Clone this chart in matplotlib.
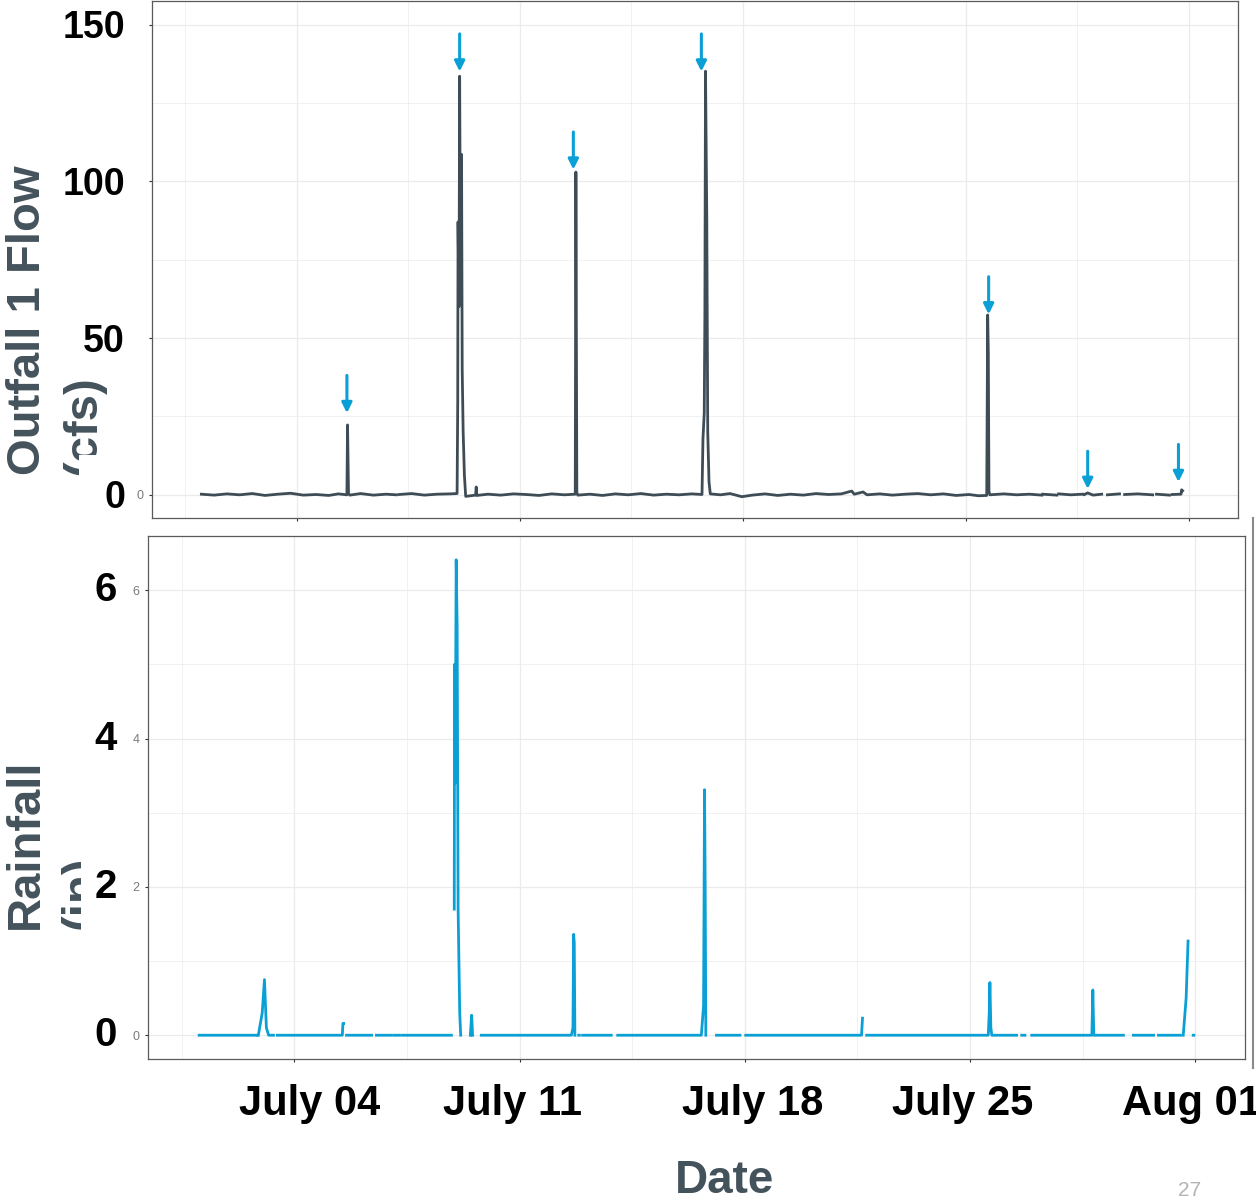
import numpy as np
import pandas as pd
import matplotlib
matplotlib.use("Agg")
import matplotlib.pyplot as plt
from matplotlib import transforms
from matplotlib.patches import Rectangle
from matplotlib.lines import Line2D

nan = np.nan

#####       data (day of July, July 1 00:00 = 1.0)       #####
flow_day = [1.00, 1.40, 1.80, 2.20, 2.60, 3.00, 3.40, 3.80, 4.20, 4.60, 5.00, 5.30,
            5.57, 5.59, 5.62, 5.66, 6.00, 6.40, 6.80, 7.12, 7.16, 7.21, 7.60, 8.00,
            8.40, 8.80, 9.03, 9.05, 9.06, 9.09, 9.11, 9.13, 9.17, 9.19, 9.22, 9.26,
            9.30, 9.45, 9.61, 9.63, 9.65, 10.0, 10.4, 10.8, 11.2, 11.6, 12.0, 12.4,
            12.74, 12.76, 12.79, 12.82, 13.2, 13.6, 14.0, 14.4, 14.8, 15.2, 15.6, 16.0,
            16.4, 16.72, 16.75, 16.79, 16.81, 16.83, 16.87, 16.90, 16.94, 16.98, 17.3, 17.6,
            17.97, 18.3, 18.7, 19.1, 19.5, 19.9, 20.3, 20.7, 21.1, 21.42, 21.5, 21.78,
            21.9, 22.3, 22.7, 23.1, 23.5, 23.9, 24.3, 24.7, 25.1, 25.4, 25.66, 25.69,
            25.71, 25.73, 25.76, 26.2, 26.6, 27.0, 27.39, 27.40, 27.42, 27.86, 27.89, 27.92,
            28.3, 28.67, 28.70, 28.73, 28.83, 29.0, 29.27, 29.36, 29.45, 29.83, 29.90, 29.99,
            30.4, 30.87, 30.93, 30.99, 31.40, 31.44, 31.49, 31.76, 31.78, 31.81]
flow_cfs = [0.1, -0.2, 0.2, -0.1, 0.3, -0.3, 0.1, 0.4, -0.2, 0.0, -0.3, 0.2,
            -0.1, 22.2, 0.4, -0.2, 0.3, -0.2, 0.1, -0.1, nan, 0.0, 0.3, -0.2,
            0.1, 0.2, 0.3, 30.0, 87.0, 60.0, 133.5, 85.0, 108.5, 40.0, 20.0, 6.0,
            -0.6, -0.4, -0.2, 2.4, -0.3, 0.1, -0.2, 0.2, 0.0, -0.3, 0.2, -0.1,
            0.1, 102.9, 0.6, -0.2, 0.1, -0.3, 0.2, -0.1, 0.3, -0.2, 0.1, -0.1,
            0.2, 0.0, 17.7, 26.0, 57.0, 135.1, 88.0, 20.0, 4.0, 0.2, -0.1, 0.3,
            -0.7, -0.2, 0.2, -0.3, 0.1, -0.2, 0.3, 0.0, 0.2, 1.1, 0.1, 0.8,
            -0.1, 0.2, -0.2, 0.1, 0.3, -0.1, 0.2, -0.3, 0.0, -0.4, -0.3, 57.3,
            45.0, 1.0, -0.1, 0.2, -0.1, 0.1, -0.2, nan, 0.1, -0.2, nan, 0.2,
            -0.1, 0.1, nan, 0.0, 0.5, -0.2, 0.1, nan, -0.1, 0.2, nan, 0.0,
            0.2, -0.1, nan, 0.1, -0.2, nan, 0.0, 0.1, 1.5, 1.2]

rain_day = [1.04, 2.82, 2.84, 2.88, 3.00, 3.07, 3.13, 3.20, 3.35, 3.40, 3.47, 5.49,
            5.51, 5.53, 5.56, 5.62, 6.40, 6.47, 6.55, 7.02, 7.06, 7.11, 7.27, 7.31,
            7.36, 8.88, 8.93, 8.97, 8.98, 9.00, 9.03, 9.06, 9.09, 9.14, 9.17, 9.30,
            9.47, 9.51, 9.54, 9.65, 9.81, 12.61, 12.66, 12.68, 12.70, 12.72, 12.78, 12.84,
            12.86, 12.90, 12.96, 13.85, 13.95, 14.05, 16.65, 16.72, 16.75, 16.77, 16.79, 16.95,
            17.12, 17.85, 17.94, 18.03, 21.63, 21.66, 21.72, 21.79, 25.57, 25.60, 25.62, 25.65,
            25.68, 26.45, 26.53, 26.61, 26.71, 26.80, 26.92, 28.79, 28.82, 28.85, 29.77, 29.92,
            30.08, 30.71, 30.78, 30.86, 31.54, 31.58, 31.63, 31.72, 31.78, 31.86, 31.94, 31.96]
rain_in = [0.0, 0.0, nan, 0.0, 0.3, 0.75, 0.1, 0.0, 0.0, nan, 0.0, 0.0,
           0.16, 0.16, nan, 0.0, 0.0, nan, 0.0, 0.0, nan, 0.0, 0.0, nan,
           0.0, 0.0, nan, 1.7, 5.0, 3.4, 6.41, 5.5, 1.7, 0.3, 0.0, nan,
           0.0, 0.27, 0.0, nan, 0.0, 0.0, 0.1, 1.36, 1.25, 0.0, nan, 0.0,
           0.0, nan, 0.0, 0.0, nan, 0.0, 0.0, 0.4, 3.31, 2.0, 0.0, nan,
           0.0, 0.0, nan, 0.0, 0.0, 0.23, nan, 0.0, 0.0, 0.3, 0.71, 0.1,
           0.0, 0.0, nan, 0.0, 0.0, nan, 0.0, 0.0, 0.61, 0.0, 0.0, nan,
           0.0, 0.0, nan, 0.0, 0.0, nan, 0.0, 0.5, 1.27, nan, 0.0, 0.0]

arrow_day = [5.57, 9.11, 12.68, 16.70, 25.72, 28.83, 31.68]
arrow_tip = [26.0, 135.0, 103.7, 135.0, 57.5, 1.8, 4.0]

tick_days = [4, 11, 18, 25, 32]
tick_labels = ["July 04", "July 11", "July 18", "July 25", "Aug 01"]
minor_days = [0.5, 7.5, 14.5, 21.5, 28.5]
flow_ticks = [0, 50, 100, 150]
flow_minor = [25, 75, 125]
rain_ticks = [0, 2, 4, 6]
rain_minor = [1, 3, 5]

base = pd.Timestamp("2019-06-30")


def to_time(days):
    return base + pd.to_timedelta(np.asarray(days, dtype=float), unit="D")


W, H = 1256, 1196
fig = plt.figure(figsize=(W / 100, H / 100), dpi=100)
plt.rcParams["font.family"] = ["Liberation Sans", "DejaVu Sans"]

ax1 = fig.add_axes([152 / W, 1 - 518 / H, 1086 / W, 517 / H])
ax2 = fig.add_axes([148 / W, 1 - 1059 / H, 1097 / W, 523 / H])

t0, t1 = to_time([1.0])[0], to_time([32.0])[0]
xpad = (t1 - t0) * 0.05

for ax in (ax1, ax2):
    ax.set_axisbelow(True)
    ax.set_xlim(t0 - xpad, t1 + xpad)
    ax.set_xticks(to_time(tick_days))
    ax.set_xticks(to_time(minor_days), minor=True)
    ax.grid(which="major", color="#ebebeb", lw=0.9)
    ax.grid(which="minor", color="#ededed", lw=0.55)
    ax.tick_params(which="minor", length=0)
    ax.tick_params(which="major", length=2.5, width=0.8, color="#333333",
                   labelsize=9, labelcolor="#7a7a7a", pad=3.5)
    for s in ax.spines.values():
        s.set_color("#5a5a5a")
        s.set_linewidth(0.9)

#####       top: flow       #####
ax1.plot(to_time(flow_day), flow_cfs, color="#3e4c56", lw=2.0, solid_joinstyle="round")
ax1.set_ylim(-7.5, 157.5)
ax1.set_yticks(flow_ticks)
ax1.set_yticks(flow_minor, minor=True)
ax1.set_yticklabels(["0", "", "", ""])
ax1.set_xticklabels([])

for d, tip in zip(arrow_day, arrow_tip):
    t = to_time([d])[0]
    ax1.annotate("", xy=(t, tip), xytext=(t, tip + 12),
                 arrowprops=dict(arrowstyle="-|>", color="#0aa0d6", lw=2.2,
                                 mutation_scale=15, shrinkA=0, shrinkB=0))

#####       bottom: rainfall       #####
ax2.plot(to_time(rain_day), rain_in, color="#0aa0d6", lw=2.0, solid_joinstyle="round")
ax2.set_ylim(-0.3205, 6.7305)
ax2.set_yticks(rain_ticks)
ax2.set_yticks(rain_minor, minor=True)
ax2.set_yticklabels([str(v) for v in rain_ticks])

ax2.set_xticklabels(tick_labels, fontsize=30, fontweight="bold", color="black")
ax2.tick_params(axis="x", which="major", pad=15.5, labelcolor="black", labelsize=30)
label_dx = [15, -7, 8, -7, -4]
for lab, dx in zip(ax2.get_xticklabels(), label_dx):
    lab.set_fontweight("bold")
    lab.set_transform(lab.get_transform() + transforms.ScaledTranslation(dx / 100, 0, fig.dpi_scale_trans))

ax2.set_xlabel("Date", fontsize=33, fontweight="bold", color="#44525c")
ax2.xaxis.set_label_coords(0.526, -0.191)

#####       overlay titles and big tick numbers       #####
title_kw = dict(rotation=90, rotation_mode="anchor", ha="left", va="top", multialignment="left",
                fontsize=34, fontweight="bold", color="#44525c", linespacing=1.35, zorder=3)
fig.text(6 / W, 1 - 475 / H, "Outfall 1 Flow\n(cfs)", **title_kw)
fig.text(4 / W, 1 - 929 / H, "Rainfall\n(in)", **title_kw)

# white boxes of the pasted-on numbers hide part of the second title line
fig.add_artist(Rectangle((79 / W, 1 - 520 / H), 51 / W, 65 / H, transform=fig.transFigure,
                         facecolor="white", edgecolor="none", zorder=4))
fig.add_artist(Rectangle((81 / W, 1 - 933 / H), 47 / W, 84 / H, transform=fig.transFigure,
                         facecolor="white", edgecolor="none", zorder=4))

tr1 = transforms.offset_copy(transforms.blended_transform_factory(ax1.transAxes, ax1.transData),
                             fig=fig, x=0, y=-4, units="dots")
for v in flow_ticks:
    fig.text(-0.0249, v, str(v), transform=tr1, ha="right", va="center",
             fontsize=27, fontweight="bold", color="black", zorder=5)

tr2 = transforms.blended_transform_factory(ax2.transAxes, ax2.transData)
for v in rain_ticks:
    fig.text(-0.0283, v, str(v), transform=tr2, ha="right", va="center",
             fontsize=29, fontweight="bold", color="black", zorder=5)

fig.add_artist(Line2D([1253 / W, 1253 / W], [1 - 518 / H, 1 - 1068 / H], transform=fig.transFigure,
                      color="#8a8a8a", lw=1.5))
fig.text(1190 / W, 1 - 1181 / H, "27", fontsize=15, color="#b4b4b4", ha="center", va="top")

fig.savefig("out.png", dpi=100)
